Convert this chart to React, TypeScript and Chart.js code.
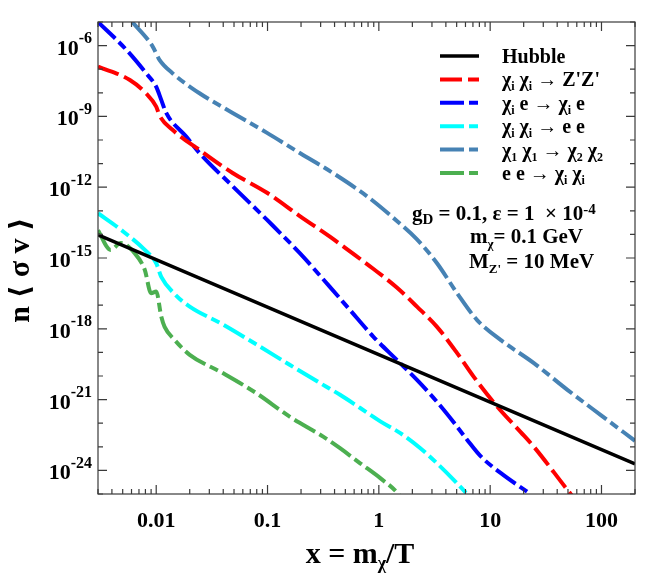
import { useEffect, useRef } from "react";
import { Chart, registerables } from "chart.js";

Chart.register(...registerables);

const FONT = '"Liberation Serif", "DejaVu Serif", serif';

// x = m_chi / T
const hubbleX = [0.003, 200];
const hubbleY = [9.5e-15, 1.9e-24];

const zzX = [0.003, 0.0058, 0.0081, 0.01, 0.0107, 0.014, 0.0245, 0.0486, 0.099, 0.195, 0.363, 0.55, 0.89, 1.45, 2.2, 3.33, 5.05, 7.1, 11.6, 18.8, 24.7, 49.4, 55];
const zzY = [1.3e-7, 3.5e-8, 9.5e-9, 2.6e-9, 1.1e-9, 2.7e-10, 3.8e-11, 4e-12, 5.8e-13, 6e-14, 8e-15, 1.9e-15, 3.5e-16, 5.6e-17, 8.7e-18, 1.2e-18, 9.3e-20, 9.4e-21, 5e-22, 4.2e-23, 1e-23, 1.5e-25, 8e-26];

const chieX = [0.003, 0.0054, 0.0081, 0.01, 0.0111, 0.0123, 0.0186, 0.0245, 0.0486, 0.0986, 0.195, 0.363, 0.55, 0.89, 1.45, 2.2, 3.33, 4.7, 6.2, 8.2, 12.4, 23];
const chieY = [1e-5, 6.6e-7, 6.8e-8, 1.8e-8, 5e-9, 1.4e-9, 1.4e-10, 2.8e-11, 1.1e-12, 4.2e-14, 1.6e-15, 6e-17, 6.3e-18, 4.7e-19, 4.8e-20, 6.8e-21, 8e-22, 1.1e-22, 2e-23, 4e-24, 7.8e-25, 1e-25];

const eeX = [0.003, 0.0048, 0.0079, 0.01, 0.0111, 0.0146, 0.02, 0.04, 0.079, 0.158, 0.316, 0.448, 0.68, 1.03, 1.56, 2.36, 3.33, 4.7, 6.2];
const eeY = [7.9e-14, 1.6e-14, 2.2e-15, 6e-16, 1.6e-16, 3e-17, 8.7e-18, 1.5e-18, 2.2e-19, 3e-20, 4.2e-21, 1.6e-21, 4.4e-22, 1.2e-22, 3.8e-23, 8.7e-24, 2e-24, 4e-25, 1e-25];

const chi12X = [0.0061, 0.0093, 0.0107, 0.014, 0.0245, 0.0486, 0.099, 0.195, 0.39, 0.79, 1.35, 2.19, 3.33, 5.05, 7.6, 12.4, 24.7, 49.4, 98.6, 200];
const chi12Y = [1e-5, 9.1e-7, 2.5e-7, 6.8e-8, 9.6e-9, 1.4e-9, 2e-10, 2.8e-11, 3.9e-12, 4e-13, 5e-14, 6.3e-15, 6e-16, 3.2e-17, 2.4e-18, 3.4e-19, 3.5e-20, 2.6e-21, 2.2e-22, 1.8e-23];

const invX = [0.003, 0.0039, 0.0048, 0.0064, 0.0079, 0.009, 0.01, 0.0111, 0.0119, 0.0146, 0.02, 0.04, 0.079, 0.158, 0.316, 0.448, 0.68, 1.03, 1.45, 1.55];
const invY = [1.5e-14, 2.2e-15, 4.3e-15, 1.6e-15, 3.1e-16, 3.2e-17, 3.8e-17, 3.3e-18, 1.2e-18, 3.4e-19, 7.9e-20, 1.3e-20, 1.9e-21, 1.9e-22, 2.7e-23, 8.7e-24, 2e-24, 4.7e-25, 1.2e-25, 8e-26];

const seriesLabels = [
  "Hubble",
  "χ_{i} χ_{i} → Z'Z'",
  "χ_{i} e → χ_{i} e",
  "χ_{i} χ_{i} → e e",
  "χ_{1} χ_{1} → χ_{2} χ_{2}",
  "e e → χ_{i} χ_{i}",
];
const seriesColors = ["#000000", "#ff0000", "#0000ff", "#00ffff", "#4682b4", "#4caf50"];

const xTickValues = [0.01, 0.1, 1, 10, 100];
const xTickLabels = ["0.01", "0.1", "1", "10", "100"];
const yTickExponents = [-24, -21, -18, -15, -12, -9, -6];

const notes = ["g_{D} = 0.1, ε = 1  × 10^{-4}", "m_{χ}= 0.1 GeV", "M_{Z'} = 10 MeV"];

function pts(xs: number[], ys: number[]) {
  return xs.map((x, i) => ({ x, y: ys[i] }));
}

// tiny markup: _{..} subscript, ^{..} superscript
function drawRich(
  ctx: CanvasRenderingContext2D,
  s: string,
  x: number,
  y: number,
  size: number,
  align = "left",
  smallScale = 0.62,
  supRaise = 0.42,
  subDrop = 0.2
) {
  const segs: { t: string; k: number }[] = [];
  const re = /([_^])\{([^}]*)\}|([^_^]+)/g;
  let m: RegExpExecArray | null;
  while ((m = re.exec(s))) {
    if (m[3]) segs.push({ t: m[3], k: 0 });
    else segs.push({ t: m[2], k: m[1] === "_" ? 1 : 2 });
  }
  const font = (k: number) => `bold ${k ? Math.round(size * smallScale) : size}px ${FONT}`;
  let w = 0;
  for (const g of segs) {
    ctx.font = font(g.k);
    w += ctx.measureText(g.t).width;
  }
  let cx = align === "right" ? x - w : align === "center" ? x - w / 2 : x;
  ctx.textAlign = "left";
  ctx.textBaseline = "alphabetic";
  for (const g of segs) {
    ctx.font = font(g.k);
    const dy = g.k === 1 ? size * subDrop : g.k === 2 ? -size * supRaise : 0;
    ctx.fillText(g.t, cx, y + dy);
    cx += ctx.measureText(g.t).width;
  }
}

const decor = {
  id: "decor",
  afterDraw(chart: any) {
    const { ctx, chartArea: a, scales } = chart;
    const xs = scales.x;
    const ys = scales.y;
    ctx.save();

    // frame + inward ticks on all four sides
    ctx.strokeStyle = "#3a3a3a";
    ctx.lineWidth = 1.2;
    ctx.strokeRect(a.left, a.top, a.right - a.left, a.bottom - a.top);
    ctx.beginPath();
    for (let n = -3; n <= 2; n++) {
      for (let k = 1; k <= 9; k++) {
        const v = k * Math.pow(10, n);
        if (v < xs.min || v > xs.max) continue;
        const px = xs.getPixelForValue(v);
        const len = k === 1 ? 9 : 5;
        ctx.moveTo(px, a.bottom);
        ctx.lineTo(px, a.bottom - len);
        ctx.moveTo(px, a.top);
        ctx.lineTo(px, a.top + len);
      }
    }
    for (let n = -25; n <= -5; n++) {
      const py = ys.getPixelForValue(Math.pow(10, n));
      const len = n % 3 === 0 ? 9 : 5;
      ctx.moveTo(a.left, py);
      ctx.lineTo(a.left + len, py);
      ctx.moveTo(a.right, py);
      ctx.lineTo(a.right - len, py);
    }
    ctx.stroke();

    ctx.fillStyle = "#000";
    for (const e of yTickExponents) {
      const py = ys.getPixelForValue(Math.pow(10, e));
      drawRich(ctx, `10^{${e}}`, a.left - 6, py + 9, 22, "right", 0.72, 0.52);
    }

    // axis titles
    drawRich(ctx, "x = m_{χ}/T", 352, 555, 30, "center", 0.6, 0.42, 0.2);
    ctx.save();
    ctx.translate(21, 262);
    ctx.rotate(-Math.PI / 2);
    drawRich(ctx, "n ⟨ σ v ⟩", 0, 0, 30, "center");
    ctx.restore();

    // legend
    chart.data.datasets.forEach((ds: any, i: number) => {
      const ly = 48 + i * 23.4;
      ctx.save();
      ctx.strokeStyle = ds.borderColor;
      ctx.lineWidth = ds.borderWidth;
      ctx.setLineDash(ds.borderDash || []);
      ctx.beginPath();
      ctx.moveTo(432, ly);
      ctx.lineTo(471, ly);
      ctx.stroke();
      ctx.restore();
      ctx.fillStyle = "#000";
      drawRich(ctx, ds.label, 494, ly + 7, 20);
    });

    // parameter notes
    drawRich(ctx, notes[0], 404, 212, 21, "left", 0.7, 0.3, 0.2);
    drawRich(ctx, notes[1], 462, 235, 21, "left", 0.62, 0.42, 0.25);
    drawRich(ctx, notes[2], 461, 260, 21, "left", 0.62, 0.42, 0.25);

    ctx.restore();
  },
};

const dashDot = [24, 5, 9, 5];

export default function App() {
  const canvasRef = useRef<HTMLCanvasElement>(null);

  useEffect(() => {
    if (!canvasRef.current) return;
    const xsData = [hubbleX, zzX, chieX, eeX, chi12X, invX];
    const ysData = [hubbleY, zzY, chieY, eeY, chi12Y, invY];
    const dashes = [[], [22, 6], dashDot, dashDot, dashDot, dashDot];

    const chart = new Chart(canvasRef.current, {
      type: "line",
      data: {
        datasets: seriesLabels.map((label, i) => ({
          label,
          data: pts(xsData[i], ysData[i]),
          borderColor: seriesColors[i],
          backgroundColor: seriesColors[i],
          borderWidth: i === 0 ? 3.5 : 4,
          borderDash: dashes[i],
          borderCapStyle: "butt",
          pointRadius: 0,
          cubicInterpolationMode: "monotone",
          fill: false,
        })),
      },
      options: {
        animation: false,
        responsive: true,
        maintainAspectRatio: false,
        events: [],
        layout: { padding: { top: 14, right: 8, left: 0, bottom: 0 } },
        plugins: {
          legend: { display: false },
          tooltip: { enabled: false },
        },
        scales: {
          x: {
            type: "logarithmic",
            min: 0.003,
            max: 200,
            grid: { display: false },
            border: { display: false },
            afterBuildTicks: (s: any) => {
              s.ticks = xTickValues.map((v) => ({ value: v }));
            },
            afterFit: (s: any) => {
              s.height = 79;
            },
            ticks: {
              autoSkip: false,
              maxRotation: 0,
              padding: 6,
              color: "#000",
              font: { family: FONT, size: 22, weight: "bold" },
              callback: (_v: any, i: number) => xTickLabels[i],
            },
          },
          y: {
            type: "logarithmic",
            min: 1e-25,
            max: 1e-5,
            grid: { display: false },
            border: { display: false },
            ticks: { display: false },
            afterFit: (s: any) => {
              s.width = 90;
            },
          },
        },
      },
      plugins: [decor],
    } as any);

    return () => chart.destroy();
  }, []);

  return (
    <div style={{ width: 635, height: 565, position: "relative" }}>
      <canvas ref={canvasRef} />
    </div>
  );
}
